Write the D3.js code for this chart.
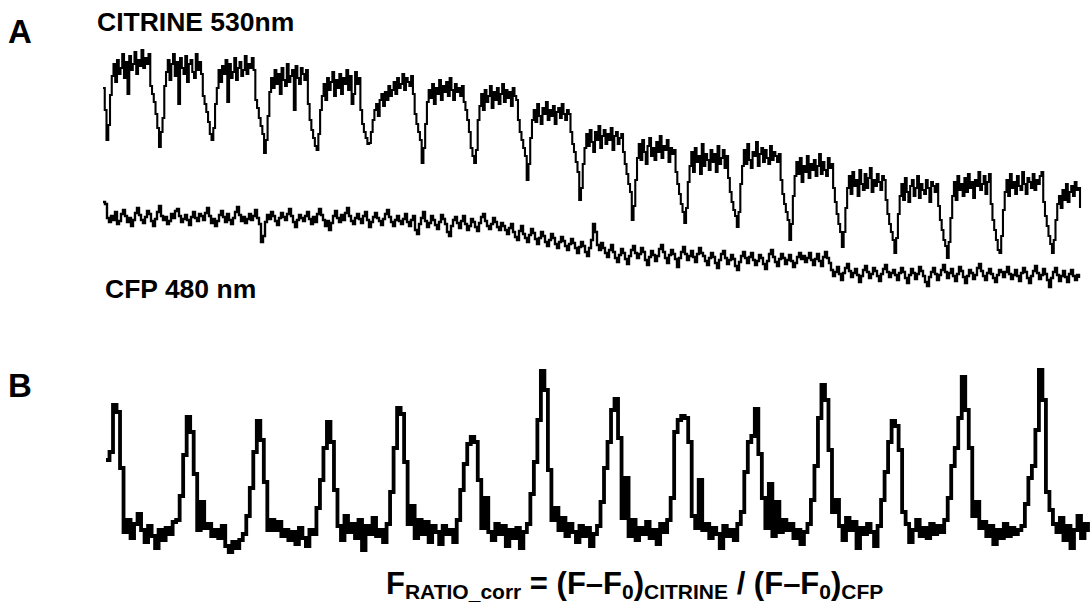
<!DOCTYPE html>
<html>
<head>
<meta charset="utf-8">
<script src="https://cdn.jsdelivr.net/npm/d3@7"></script>
<style>
  html, body { margin: 0; padding: 0; background: #fff; }
  svg { display: block; }
  text { font-family: "Liberation Sans", Arial, Helvetica, sans-serif; font-weight: bold; fill: #000; }
</style>
</head>
<body>
<svg id="chart" width="1090" height="608"></svg>
<script>
// ---- DATA (fluorescence, arbitrary units; one value per frame) ----
const citrine = [
  212, 190,
  160, 175, 205, 224, 236, 218, 240, 226, 232, 246, 222, 238, 206, 244, 230, 236, 248, 226, 240, 234, 250, 232, 242, 236, 246, 214, 206, 198, 186, 172,
  153, 168, 182, 214, 228, 240, 220, 236, 246, 224, 238, 196, 242, 232, 226, 244, 218, 236, 240, 228, 222, 246, 230, 238, 226, 204, 196, 188, 178, 166,
  160, 172, 196, 212, 230, 218, 234, 226, 240, 198, 236, 222, 228, 242, 220, 232, 238, 224, 230, 244, 226, 236, 232, 242, 230, 200, 192, 182, 174, 166,
  147, 160, 184, 208, 222, 212, 230, 216, 226, 206, 232, 220, 214, 236, 218, 224, 230, 190, 234, 222, 216, 232, 226, 220, 230, 196, 180, 170, 162, 154,
  150, 166, 190, 204, 216, 200, 222, 210, 218, 228, 204, 220, 212, 226, 206, 222, 216, 230, 210, 224, 196, 206, 228, 216, 222, 190, 176, 168, 162, 156,
  157, 168, 180, 190, 196, 184, 200, 206, 194, 208, 200, 214, 204, 210, 218, 206, 222, 212, 216, 226, 210, 222, 218, 214, 224, 206, 186, 176, 168, 160,
  137, 152, 176, 198, 210, 202, 216, 196, 212, 206, 220, 200, 214, 208, 218, 204, 222, 210, 200, 216, 208, 212, 204, 214, 198, 190, 180, 168, 152, 144,
  137, 150, 180, 194, 206, 190, 210, 198, 204, 214, 192, 208, 200, 212, 196, 206, 216, 198, 210, 202, 208, 194, 212, 204, 200, 180, 168, 160, 152, 144,
  120, 136, 162, 180, 190, 178, 196, 184, 176, 192, 186, 198, 180, 190, 184, 194, 176, 188, 192, 182, 196, 186, 180, 190, 186, 168, 156, 148, 138, 128,
  100, 112, 136, 152, 166, 154, 170, 158, 148, 168, 160, 174, 152, 164, 170, 156, 166, 160, 172, 150, 164, 168, 156, 162, 166, 148, 136, 126, 116, 108,
   80,  94, 120, 142, 156, 140, 160, 148, 136, 154, 162, 144, 152, 140, 158, 148, 164, 142, 154, 150, 160, 138, 152, 146, 150, 128, 116, 106, 96, 88,
   77,  92, 118, 134, 148, 128, 152, 138, 144, 126, 156, 134, 146, 140, 130, 150, 138, 146, 128, 154, 136, 142, 150, 132, 144, 122, 108, 98, 90, 84,
   73,  88, 116, 134, 150, 136, 156, 140, 132, 148, 144, 158, 134, 146, 152, 138, 150, 142, 136, 154, 140, 148, 144, 138, 146, 120, 106, 96, 88, 80,
   60,  76, 104, 124, 138, 126, 142, 118, 134, 128, 144, 122, 136, 130, 140, 124, 134, 146, 126, 138, 130, 124, 142, 132, 136, 112, 98, 86, 76, 68,
   53,  68,  92, 112, 124, 106, 128, 114, 120, 104, 130, 116, 110, 126, 112, 122, 132, 108, 120, 114, 126, 118, 110, 124, 120, 100, 86, 76, 68, 60,
   47,  62,  86, 104, 116, 100, 122, 108,  98, 114, 120, 104, 112, 124, 102, 116, 110, 106, 120, 112,  98, 118, 114, 108, 116, 94, 80, 70, 60, 54,
   42,  58,  82, 104, 118, 100, 124, 110, 116, 104, 122, 108, 126, 112, 118, 102, 120, 114, 128, 110, 116, 124, 106, 118, 126, 96, 80, 70, 60, 50,
   47,  64,  90, 108, 120, 104, 126, 112, 118, 106, 124, 114, 110, 128, 116, 106, 122, 118, 112, 126, 110, 120, 116, 124, 128, 98, 84, 74, 64, 56,
   47,  60,  80,  96, 104,  92, 110, 100, 116,  98, 108, 114, 104, 118, 110, 112, 92
];

const cfp = [
  98, 96, 82, 78, 84, 80, 88, 76, 79, 86, 90, 84, 78, 82, 74, 80, 87, 92, 85, 80, 77, 83, 89, 86, 79, 74, 81, 88, 94, 84, 80, 83, 76, 79, 86, 82, 89, 91, 84, 78, 81, 85, 80, 75, 83, 88, 82, 79, 86, 84,
  80, 87, 92, 84, 77, 81, 74, 79, 85, 89, 83, 78, 86, 80, 76, 82, 88, 93, 85, 79, 83, 77, 81, 86, 80, 84, 90, 82, 76, 58, 64, 78, 85, 81, 88, 84, 79, 75, 82, 87, 83, 80, 86, 91, 84, 78, 73, 80, 85, 82,
  79, 84, 88, 81, 76, 83, 78, 86, 91, 85, 80, 74, 79, 70, 77, 84, 89, 82, 78, 85, 80, 87, 92, 84, 79, 76, 82, 86, 81, 77, 84, 88, 80, 73, 78, 83, 87, 82, 79, 75, 81, 86, 90, 83, 78, 74, 80, 84, 79, 76,
  81, 86, 78, 74, 80, 84, 70, 66, 76, 82, 88, 79, 73, 77, 84, 80, 75, 71, 78, 85, 81, 76, 68, 64, 74, 80, 83, 77, 72, 79, 84, 76, 70, 74, 81, 78, 73, 69, 77, 83, 86, 79, 74, 71, 76, 82, 78, 73, 70, 77,
  74, 70, 66, 72, 76, 68, 63, 60, 69, 74, 66, 62, 58, 65, 71, 67, 61, 56, 62, 68, 64, 58, 54, 60, 66, 62, 56, 52, 58, 63, 59, 54, 50, 56, 61, 57, 52, 47, 53, 58, 54, 48, 44, 52, 60, 76, 68, 55, 50, 57,
  52, 47, 43, 50, 55, 48, 42, 38, 45, 51, 47, 41, 36, 44, 50, 54, 47, 42, 46, 52, 48, 40, 35, 43, 49, 45, 39, 44, 51, 55, 48, 42, 37, 45, 50, 46, 41, 33, 42, 48, 53, 46, 40, 44, 49, 43, 38, 46, 52, 47,
  44, 39, 35, 42, 47, 43, 37, 32, 40, 46, 49, 42, 36, 40, 45, 41, 34, 30, 38, 44, 48, 42, 37, 43, 47, 40, 35, 39, 45, 42, 36, 31, 39, 46, 50, 43, 38, 34, 41, 46, 42, 36, 40, 45, 39, 33, 37, 43, 47, 41,
  44, 38, 42, 47, 40, 35, 41, 46, 39, 34, 43, 48, 42, 37, 30, 24, 28, 33, 26, 20, 27, 32, 36, 29, 23, 27, 31, 25, 18, 24, 30, 34, 28, 22, 26, 32, 29, 24, 19, 26, 31, 35, 28, 23, 27, 30, 25, 20, 27, 32,
  28, 22, 17, 25, 31, 27, 21, 26, 33, 29, 24, 18, 14, 23, 28, 32, 26, 20, 25, 30, 35, 28, 22, 27, 31, 24, 19, 26, 33, 29, 23, 17, 24, 30, 27, 21, 25, 32, 36, 29, 24, 20, 27, 31, 26, 22, 18, 25, 30, 28,
  23, 28, 33, 26, 21, 25, 30, 24, 19, 27, 32, 28, 22, 17, 24, 29, 34, 27, 21, 25, 31, 26, 20, 13, 22, 28, 32, 25, 19, 24, 29, 23, 18, 26, 30, 24, 20, 25, 22
];

const ratioCorr = [
  100, 108, 155, 148, 92, 28, 40, 22, 36, 46, 30, 18, 34, 24, 12, 30, 20, 32, 26, 38,
  40, 64, 105, 143, 128, 86, 30, 58, 32, 36, 24, 30, 22, 34, 14, 8, 18, 12, 20, 26,
  44, 72, 108, 139, 120, 78, 30, 40, 30, 38, 24, 30, 20, 28, 16, 32, 22, 14, 30, 26,
  52, 80, 112, 138, 118, 70, 34, 20, 44, 28, 36, 22, 40, 10, 34, 26, 42, 24, 30, 18,
  36, 68, 112, 152, 146, 98, 36, 54, 22, 40, 26, 38, 18, 34, 28, 16, 34, 26, 30, 18,
  40, 70, 96, 116, 123, 118, 80, 32, 62, 28, 20, 36, 26, 34, 14, 30, 22, 32, 12, 28,
  36, 66, 98, 140, 189, 170, 90, 40, 52, 30, 42, 24, 36, 28, 18, 34, 24, 32, 14, 26,
  34, 58, 92, 118, 150, 161, 122, 42, 82, 24, 40, 20, 32, 26, 38, 22, 30, 16, 36, 28,
  40, 62, 128, 140, 144, 142, 118, 44, 32, 80, 30, 36, 22, 32, 26, 12, 34, 24, 30, 20,
  36, 48, 88, 118, 124, 151, 106, 62, 32, 76, 24, 58, 28, 40, 30, 36, 22, 30, 16, 28,
  36, 60, 94, 142, 175, 160, 110, 48, 60, 34, 20, 42, 30, 38, 12, 32, 26, 36, 28, 14,
  34, 60, 88, 118, 139, 134, 110, 48, 36, 18, 30, 40, 24, 32, 22, 36, 26, 34, 28, 40,
  62, 94, 112, 142, 183, 150, 112, 44, 58, 32, 38, 24, 34, 16, 30, 22, 36, 24, 32, 26,
  30, 34, 56, 82, 94, 130, 190, 160, 68, 50, 36, 28, 42, 20, 34, 12, 30, 44, 22, 36,
  28
];

const panelLabels = ["A", "B"];
const traceLabels = ["CITRINE 530nm", "CFP 480 nm"];

// ---- DRAWING ----
const svg = d3.select("#chart");

// Panel A scales
const yA = d3.scaleLinear().domain([0, 260]).range([300, 40]);
const xCit = d3.scaleLinear().domain([0, citrine.length - 1]).range([103, 1080]);
const xCfp = d3.scaleLinear().domain([0, cfp.length - 1]).range([103, 1079]);

// Panel B scales
const yB = d3.scaleLinear().domain([0, 200]).range([560, 360]);
const xB = d3.scaleLinear().domain([0, ratioCorr.length - 1]).range([106, 1088]);

function stepLine(xs, ys) {
  return d3.line().x((d, i) => xs(i)).y(d => ys(d)).curve(d3.curveStepAfter);
}

svg.append("path").datum(citrine)
  .attr("d", stepLine(xCit, yA))
  .attr("fill", "none").attr("stroke", "#000").attr("stroke-width", 2.1)
  .attr("stroke-linejoin", "miter");

svg.append("path").datum(cfp)
  .attr("d", stepLine(xCfp, yA))
  .attr("fill", "none").attr("stroke", "#000").attr("stroke-width", 2.4)
  .attr("stroke-linejoin", "miter");

svg.append("path").datum(ratioCorr)
  .attr("d", stepLine(xB, yB))
  .attr("fill", "none").attr("stroke", "#000").attr("stroke-width", 3.8)
  .attr("stroke-linejoin", "miter");

// Panel letters
svg.append("text").attr("x", 8).attr("y", 43).attr("font-size", 33).text(panelLabels[0]);
svg.append("text").attr("x", 8).attr("y", 397).attr("font-size", 33).text(panelLabels[1]);

// Trace labels
svg.append("text").attr("x", 97).attr("y", 31).attr("font-size", 26.5).text(traceLabels[0]);
svg.append("text").attr("x", 105).attr("y", 298).attr("font-size", 26.5).text(traceLabels[1]);

// Formula
const f = svg.append("text").attr("x", 386).attr("y", 594).attr("font-size", 31);
f.append("tspan").text("F");
f.append("tspan").attr("font-size", 21).attr("dy", 5).text("RATIO_corr");
f.append("tspan").attr("dy", -5).text(" = (F\u2013F");
f.append("tspan").attr("font-size", 21).attr("dy", 5).text("0");
f.append("tspan").attr("dy", -5).text(")");
f.append("tspan").attr("font-size", 21).attr("dy", 5).text("CITRINE");
f.append("tspan").attr("dy", -5).text(" / (F\u2013F");
f.append("tspan").attr("font-size", 21).attr("dy", 5).text("0");
f.append("tspan").attr("dy", -5).text(")");
f.append("tspan").attr("font-size", 21).attr("dy", 5).text("CFP");
</script>
</body>
</html>
